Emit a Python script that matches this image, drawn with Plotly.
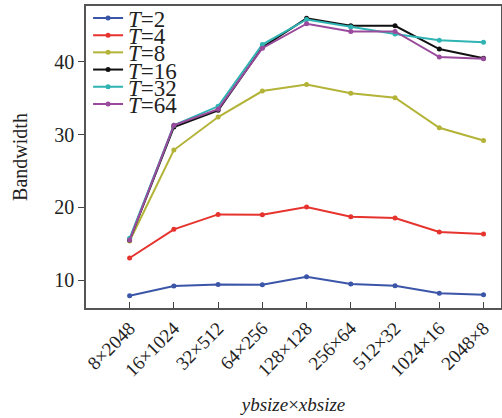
import plotly.graph_objects as go

categories = ["8×2048", "16×1024", "32×512", "64×256", "128×128",
              "256×64", "512×32", "1024×16", "2048×8"]
series_names = ["<i>T</i>=2", "<i>T</i>=4", "<i>T</i>=8", "<i>T</i>=16", "<i>T</i>=32", "<i>T</i>=64"]
t2 = [7.84, 9.17, 9.4, 9.35, 10.46, 9.45, 9.2, 8.17, 7.98]
t4 = [13.03, 16.97, 19.03, 18.98, 20.04, 18.7, 18.53, 16.6, 16.33]
t8 = [15.36, 27.88, 32.42, 36.0, 36.9, 35.7, 35.08, 30.95, 29.2]
t16 = [15.5, 31.05, 33.34, 42.0, 46.0, 44.98, 44.98, 41.77, 40.5]
t32 = [15.73, 31.3, 33.9, 42.4, 45.85, 44.8, 43.84, 43.0, 42.7]
t64 = [15.5, 31.3, 33.5, 41.9, 45.26, 44.2, 44.2, 40.67, 40.44]
colors = ["#3b55a8", "#e6332e", "#b3b338", "#111111", "#2fb3b3", "#9a4a9c"]
y_ticks = [10, 20, 30, 40]

font_family = "Liberation Serif"
W, H = 502, 418
M_L, M_R, M_T, M_B = 86, 1, 6, 110
plot_h = H - M_T - M_B

fig = go.Figure()
legend_layouts = {}
for i, (name, vals, c) in enumerate(zip(series_names, [t2, t4, t8, t16, t32, t64], colors)):
    lname = "legend" if i == 0 else f"legend{i + 1}"
    fig.add_trace(go.Scatter(
        x=list(range(len(categories))), y=vals, name=name,
        mode="lines+markers",
        line=dict(color=c, width=2),
        marker=dict(color=c, size=5),
        legend=lname,
    ))
    center_px = 18 + i * 17.2
    legend_layouts[lname] = dict(
        x=0.005, y=1 - (center_px - M_T) / plot_h, xanchor="left", yanchor="middle",
        bgcolor="rgba(0,0,0,0)", font=dict(size=23, family=font_family, color="#222"),
        itemwidth=30, valign="middle",
    )

fig.update_layout(
    width=W, height=H,
    margin=dict(l=M_L, r=M_R, t=M_T, b=M_B, autoexpand=False),
    paper_bgcolor="white", plot_bgcolor="white",
    font=dict(family=font_family, size=20, color="#222"),
    showlegend=True,
    **legend_layouts,
    xaxis=dict(
        range=[-0.986, 8.395],
        tickmode="array", tickvals=list(range(len(categories))), ticktext=categories,
        tickangle=-45, ticks="inside", ticklen=6, tickcolor="#444",
        showline=True, linecolor="#555", linewidth=1.5, mirror=True,
        showgrid=False, zeroline=False,
        tickfont=dict(size=19, family=font_family),
        title=dict(text="<i>ybsize</i>×<i>xbsize</i>", font=dict(size=19, family=font_family), standoff=18),
        automargin=False,
    ),
    yaxis=dict(
        range=[6.15, 47.7],
        tickmode="array", tickvals=y_ticks,
        ticks="outside", ticklen=6, tickcolor="#444",
        showline=True, linecolor="#555", linewidth=1.5, mirror=True,
        showgrid=False, zeroline=False,
        tickfont=dict(size=20, family=font_family),
        title=dict(text="Bandwidth", font=dict(size=20, family=font_family), standoff=21),
        automargin=False,
    ),
)
fig.write_html("out.html", config={"displayModeBar": False},
               post_script="document.body.style.margin='0';")
